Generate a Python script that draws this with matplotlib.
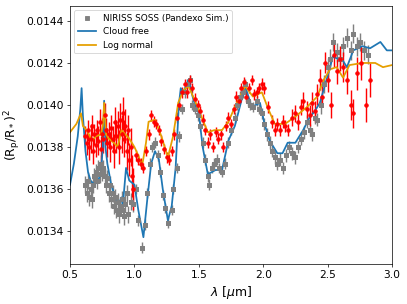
import matplotlib
matplotlib.use("Agg")
import matplotlib.pyplot as plt

# Pandexo simulated NIRISS SOSS spectrum (grey)
sim_wave = [0.62, 0.63, 0.64, 0.65, 0.66, 0.67, 0.68, 0.69, 0.70, 0.71, 0.72, 0.73, 0.74, 0.75,
            0.76, 0.77, 0.78, 0.79, 0.80, 0.81, 0.82, 0.83, 0.84, 0.85, 0.86, 0.87, 0.88, 0.89,
            0.90, 0.91, 0.92, 0.93, 0.94, 0.95, 0.97, 0.99,
            1.01, 1.03, 1.06, 1.08, 1.10, 1.12, 1.14, 1.16, 1.18, 1.20, 1.22, 1.24, 1.26, 1.29,
            1.30, 1.33, 1.35, 1.37, 1.39, 1.41, 1.43,
            1.45, 1.47, 1.49, 1.51, 1.53, 1.55, 1.57, 1.58, 1.60, 1.62, 1.64, 1.66, 1.68, 1.70,
            1.73, 1.75, 1.78, 1.80, 1.82, 1.84, 1.86, 1.88, 1.90, 1.92, 1.95, 1.97, 1.99,
            2.01, 2.03, 2.05, 2.07, 2.09, 2.11, 2.13, 2.15, 2.18, 2.20, 2.22, 2.25, 2.27, 2.29,
            2.32, 2.34, 2.36, 2.38, 2.40, 2.42, 2.45, 2.47, 2.50, 2.52, 2.54, 2.57, 2.60, 2.62,
            2.65, 2.68, 2.70, 2.73, 2.75, 2.78, 2.81]
sim_depth = [0.01362, 0.01358, 0.01364, 0.01356, 0.01360, 0.01355, 0.01362, 0.01366, 0.01368,
             0.01364, 0.01370, 0.01367, 0.01372, 0.01368, 0.01370, 0.01366, 0.01362, 0.01365,
             0.01358, 0.01362, 0.01355, 0.01358, 0.01352, 0.01356, 0.01350, 0.01354, 0.01348,
             0.01352, 0.01355, 0.01350, 0.01347, 0.01353, 0.01358, 0.01348, 0.01354, 0.01353,
             0.01360, 0.01345, 0.01332, 0.01343, 0.01358, 0.01372, 0.01380, 0.01382, 0.01376,
             0.01368, 0.01357, 0.01351, 0.01344, 0.01350, 0.01360, 0.01370, 0.01385, 0.01398,
             0.01406, 0.01410, 0.01412,
             0.01400, 0.01398, 0.01395, 0.01390, 0.01382, 0.01374, 0.01366, 0.01362, 0.01370,
             0.01372, 0.01374, 0.01370, 0.01368, 0.01372, 0.01382, 0.01388, 0.01394, 0.01400,
             0.01404, 0.01406, 0.01410, 0.01402, 0.01400, 0.01399, 0.01402, 0.01398, 0.01396,
             0.01391, 0.01386, 0.01382, 0.01378, 0.01375, 0.01372, 0.01374, 0.01370, 0.01376,
             0.01380, 0.01377, 0.01375, 0.01380, 0.01384, 0.01387, 0.01392, 0.01388, 0.01386,
             0.01394, 0.01393, 0.01400, 0.01410, 0.01418, 0.01422, 0.01430, 0.01425, 0.01422,
             0.01428, 0.01432, 0.01426, 0.01434, 0.01428, 0.01430, 0.01426, 0.01424]
sim_err = [4e-5] * 36 + [2.5e-5] * 48 + [3e-5] * 20 + [4.5e-5] * 15

# observed spectrum (red)
obs_wave = [0.62, 0.63, 0.64, 0.65, 0.66, 0.67, 0.68, 0.69, 0.70, 0.71, 0.72, 0.73, 0.74, 0.75,
            0.76, 0.77, 0.78, 0.79, 0.80, 0.81, 0.82, 0.83, 0.84, 0.85, 0.86, 0.87, 0.88, 0.89,
            0.90, 0.91, 0.92, 0.93, 0.94, 0.95, 0.96, 0.97, 0.98, 0.99,
            1.01, 1.03, 1.05, 1.07, 1.09, 1.11, 1.13, 1.15, 1.17, 1.19, 1.21, 1.23, 1.25, 1.27,
            1.29, 1.31, 1.33, 1.35, 1.37, 1.39, 1.41, 1.43, 1.45, 1.47, 1.49, 1.51, 1.53, 1.55,
            1.57, 1.59, 1.61, 1.63, 1.65, 1.67, 1.69, 1.71, 1.73, 1.75, 1.77, 1.79, 1.81, 1.83,
            1.85, 1.87, 1.89, 1.91, 1.93, 1.95, 1.97,
            1.99, 2.01, 2.04, 2.07, 2.09, 2.11, 2.13, 2.15, 2.17, 2.19, 2.22, 2.25, 2.27, 2.29,
            2.31, 2.34, 2.36, 2.38, 2.40, 2.42, 2.44, 2.46, 2.48, 2.50, 2.53, 2.55, 2.57, 2.60,
            2.62, 2.65, 2.68, 2.70, 2.73, 2.76, 2.80, 2.83]
obs_depth = [0.01385, 0.01382, 0.01388, 0.01380, 0.01384, 0.01390, 0.01378, 0.01386, 0.01381,
             0.01388, 0.01383, 0.01392, 0.01379, 0.01386, 0.01384, 0.01395, 0.01388, 0.01382,
             0.01386, 0.01380, 0.01389, 0.01384, 0.01378, 0.01392, 0.01385, 0.01390, 0.01380,
             0.01393, 0.01386, 0.01396, 0.01384, 0.01390, 0.01378, 0.01388, 0.01374, 0.01380,
             0.01366, 0.01360,
             0.01376, 0.01374, 0.01372, 0.01370, 0.01378, 0.01386, 0.01395, 0.01392, 0.01391,
             0.01388, 0.01383, 0.01379, 0.01375, 0.01374, 0.01378, 0.01386, 0.01394, 0.01400,
             0.01406, 0.01410, 0.01406, 0.01412, 0.01408, 0.01403, 0.01400, 0.01397, 0.01393,
             0.01388, 0.01382, 0.01386, 0.01380, 0.01387, 0.01384, 0.01386, 0.01380, 0.01390,
             0.01394, 0.01391, 0.01398, 0.01404, 0.01402, 0.01408, 0.01411, 0.01404, 0.01408,
             0.01412, 0.01405, 0.01406, 0.01408,
             0.01410, 0.01408, 0.01399, 0.01392, 0.01388, 0.01391, 0.01388, 0.01392, 0.01390,
             0.01388, 0.01394, 0.01396, 0.01392, 0.01399, 0.01402, 0.01398, 0.01395, 0.01401,
             0.01397, 0.01405, 0.01412, 0.01404, 0.01420, 0.01412, 0.01400, 0.01424, 0.01416,
             0.01422, 0.01418, 0.01412, 0.01400, 0.01396, 0.01415, 0.01420, 0.01400, 0.01412]
obs_err = ([5e-5, 6e-5, 5e-5, 6e-5, 7e-5, 5e-5, 6e-5, 5e-5, 6e-5, 5e-5, 7e-5, 6e-5, 6e-5, 8e-5,
            7e-5, 6e-5, 6e-5, 7e-5, 6e-5, 7e-5, 6e-5, 6e-5, 8e-5, 7e-5, 8e-5, 7e-5, 8e-5, 8e-5,
            9e-5, 8e-5, 9e-5, 8e-5, 9e-5, 7e-5, 8e-5, 9e-5, 1e-4, 1e-4]
           + [2.5e-5] * 49
           + [3e-5] * 10 + [4e-5] * 6 + [5e-5] * 7 + [6e-5] * 5 + [7e-5] * 4 + [8e-5] * 4)

# models
cf_wave = [0.50, 0.53, 0.56, 0.58, 0.59, 0.60, 0.62, 0.64, 0.66, 0.69, 0.72, 0.74, 0.755, 0.765,
           0.775, 0.79, 0.82, 0.85, 0.88, 0.90, 0.91, 0.935, 0.96, 1.00, 1.03, 1.07, 1.10, 1.13,
           1.16, 1.19, 1.22, 1.26, 1.29, 1.32, 1.345, 1.36, 1.38, 1.42, 1.46, 1.50, 1.53, 1.57,
           1.63, 1.68, 1.73, 1.78, 1.86, 1.91, 1.975, 2.01, 2.05, 2.11, 2.15, 2.19, 2.25, 2.31,
           2.36, 2.40, 2.44, 2.52, 2.54, 2.62, 2.65, 2.70, 2.77, 2.83, 2.91, 2.96, 3.00]
cf_depth = [0.01362, 0.01372, 0.01385, 0.01398, 0.01408, 0.01395, 0.01378, 0.01368, 0.01364,
            0.01362, 0.01364, 0.01368, 0.01380, 0.01402, 0.01380, 0.01372, 0.01362, 0.01356,
            0.01353, 0.01356, 0.01352, 0.01370, 0.01364, 0.01362, 0.01350, 0.01337, 0.01355,
            0.01372, 0.01378, 0.01374, 0.01360, 0.01345, 0.01352, 0.01370, 0.01400, 0.01408,
            0.01406, 0.01412, 0.01402, 0.01396, 0.01380, 0.01367, 0.01369, 0.01369, 0.01383,
            0.01390, 0.01409, 0.01399, 0.01401, 0.01391, 0.01383, 0.01377, 0.01377, 0.01382,
            0.01382, 0.01388, 0.01394, 0.01397, 0.01401, 0.01418, 0.01423, 0.01421, 0.01418,
            0.01426, 0.01428, 0.01427, 0.01430, 0.01426, 0.01426]

ln_wave = [0.50, 0.55, 0.585, 0.60, 0.63, 0.67, 0.70, 0.74, 0.755, 0.765, 0.78, 0.80, 0.84,
           0.87, 0.90, 0.93, 0.96, 1.00, 1.03, 1.06, 1.09, 1.11, 1.16, 1.21, 1.26, 1.30, 1.34,
           1.38, 1.42, 1.47, 1.51, 1.57, 1.62, 1.68, 1.73, 1.78, 1.86, 1.92, 1.99, 2.04, 2.09,
           2.17, 2.24, 2.34, 2.42, 2.47, 2.52, 2.57, 2.62, 2.67, 2.77, 2.87, 2.93, 3.00]
ln_depth = [0.01387, 0.01391, 0.01396, 0.01390, 0.01388, 0.01383, 0.01385, 0.01386, 0.01390,
            0.01401, 0.01386, 0.01384, 0.01382, 0.01380, 0.01388, 0.01386, 0.01384, 0.01380,
            0.01376, 0.01371, 0.01382, 0.01392, 0.01393, 0.01385, 0.01375, 0.01385, 0.01401,
            0.01407, 0.01409, 0.01402, 0.01396, 0.01387, 0.01388, 0.01388, 0.01392, 0.01399,
            0.01409, 0.01404, 0.01406, 0.01398, 0.01391, 0.01391, 0.01394, 0.01399, 0.01404,
            0.01412, 0.01417, 0.01418, 0.01413, 0.01419, 0.01420, 0.01420, 0.01418, 0.01419]

fig = plt.figure(figsize=(6.4, 4.78), dpi=63.6)
ax = fig.add_axes([0.172, 0.132, 0.791, 0.848])

ax.errorbar(sim_wave, sim_depth, yerr=sim_err, fmt="s", color="grey", ms=4, elinewidth=1.6,
            capsize=0)
ax.plot(sim_wave, sim_depth, "s", color="grey", ms=4, label="NIRISS SOSS (Pandexo Sim.)")
ax.errorbar(obs_wave, obs_depth, yerr=obs_err, fmt="o", color="red", ms=4, elinewidth=1.6,
            capsize=0)
ax.plot(cf_wave, cf_depth, color="#1f77b4", lw=2, label="Cloud free")
ax.plot(ln_wave, ln_depth, color="#e69f00", lw=2, label="Log normal")

ax.set_xlim(0.5, 3.0)
ax.set_ylim(0.013243, 0.014471)
ax.set_yticks([0.0134, 0.0136, 0.0138, 0.0140, 0.0142, 0.0144])
ax.tick_params(labelsize=12)
ax.set_xlabel(r"$\lambda$ [$\mu$m]", fontsize=14)
ax.set_ylabel(r"(R$_{\rm p}$/R$_*$)$^2$", fontsize=14)
ax.legend(loc="upper left", fontsize=10)

fig.savefig("out.png", dpi=63.6)
